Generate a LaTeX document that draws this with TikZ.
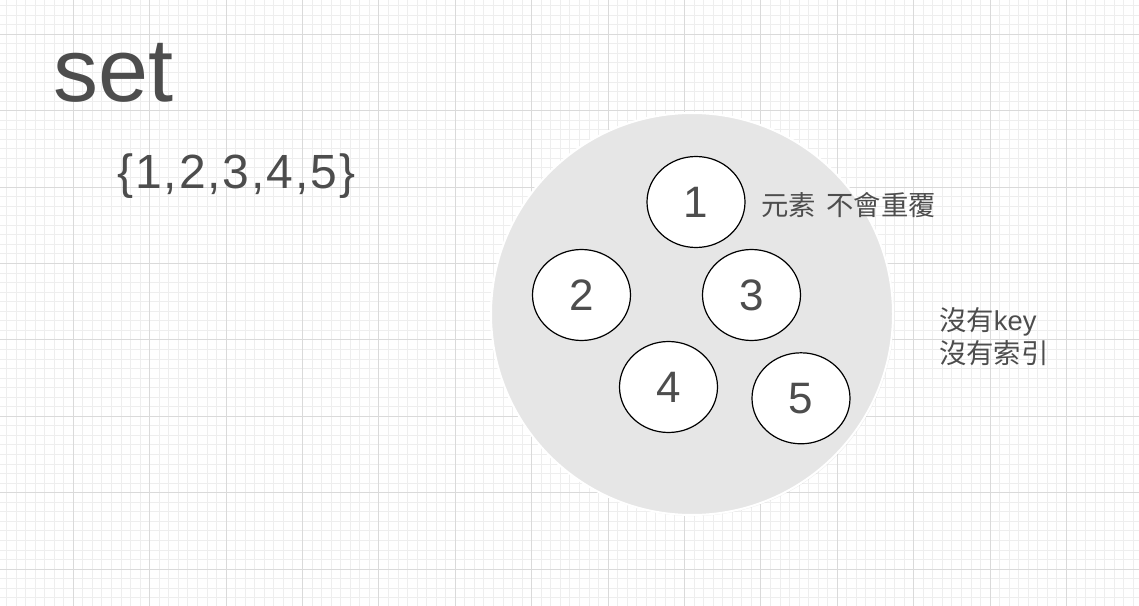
\documentclass[tikz,border=0pt]{standalone}
\usepackage{fontspec}
\setmainfont{Liberation Sans}
\newfontfamily\cjk{Noto Sans CJK TC}
\newfontfamily\widesans[LetterSpace=4]{Liberation Sans}
\usetikzlibrary{shapes.geometric,shadows}

\definecolor{txtgray}{HTML}{4D4D4D}
\definecolor{setfill}{HTML}{E6E6E6}
\definecolor{gridminor}{HTML}{EEEEEE}
\definecolor{gridmajor}{HTML}{DADADA}

\tikzset{
    minorline/.style={draw=gridminor, line width=0.75pt},
    majorline/.style={draw=gridmajor, line width=0.75pt},
    setbox/.style={circle, fill=setfill, draw=white, line width=1.5pt, minimum size=301.5pt, inner sep=0pt,
        drop shadow={opacity=0.12, shadow xshift=0.8pt, shadow yshift=-0.8pt}},
    elem/.style={ellipse, draw=black, fill=white, line width=0.9pt, minimum width=73.5pt, minimum height=68.25pt,
        inner sep=0pt, text=txtgray, font=\fontsize{33}{38}\selectfont},
    note/.style={inner sep=0pt, text=txtgray, font=\fontsize{20.5}{24.75}\selectfont}
}

\begin{document}
\begin{tikzpicture}[x=0.75pt, y=-0.75pt]
        \useasboundingbox (0,0) rectangle (1139,606);
        \fill[white] (0,0) rectangle (1139,606);

        %%%%%%%%%% Griglia %%%%%%%%%%
        \foreach \i in {0,...,118} \draw[minorline] ({6.45+\i*9.55},0) -- ({6.45+\i*9.55},606);
        \foreach \i in {0,...,62} \draw[minorline] (0,{5.65+\i*9.55}) -- (1139,{5.65+\i*9.55});
        \foreach \i in {1,...,14} \draw[majorline] ({-3.1+\i*76.4},0) -- ({-3.1+\i*76.4},606);
        \foreach \i in {0,...,7} \draw[majorline] (0,{34.3+\i*76.4}) -- (1139,{34.3+\i*76.4});

        %%%%%%%%%% Titoli %%%%%%%%%%
        \node[anchor=base west, inner sep=0pt, text=txtgray, font=\fontsize{67.5}{80}\selectfont] (title) at (53,102) {set};
        \node[anchor=base west, inner sep=0pt, text=txtgray, font=\widesans\fontsize{36}{42}\selectfont] (list) at (117,189) {\{1,2,3,4,5\}};

        %%%%%%%%%% Nodi %%%%%%%%%%
        \node[setbox] (set) at (692,314) {};
        \node[elem] (e1) at (696,202) {1};
        \node[elem] (e2) at (581.5,295) {2};
        \node[elem] (e3) at (751.5,295) {3};
        \node[elem] (e4) at (668.5,387) {4};
        \node[elem] (e5) at (801,398.3) {5};

        %%%%%%%%%% Note %%%%%%%%%%
        \node[note, anchor=west] (unique) at (761,205) {\cjk 元素\hspace{8pt}不會重覆};
        \node[note, anchor=west, align=left] (nokey) at (939,337) {{\cjk 沒有}key\\{\cjk 沒有索引}};
    \end{tikzpicture}
\end{document}
